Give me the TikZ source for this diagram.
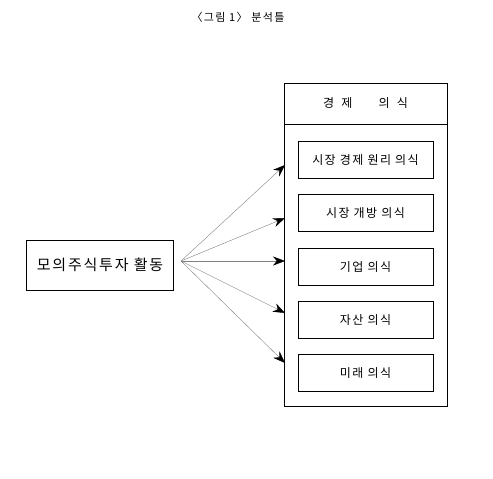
\documentclass[tikz,border=0pt]{standalone}
\usepackage{fontspec}
\newfontfamily\kr[LetterSpace=12]{Noto Sans CJK KR}
\usetikzlibrary{arrows.meta}

\begin{document}
\begin{tikzpicture}[x=1pt,y=-1pt,
  box/.style={draw, thin, minimum width=135pt, minimum height=37pt, font=\kr\fontsize{12}{14}\selectfont},
  link/.style={-{Stealth[length=12pt,width=9pt,black]}, gray, thin}]
\useasboundingbox (0,0) rectangle (493,479);
\node [font=\kr\fontsize{11}{13}\selectfont] (title) at (238,17) {〈그림 1〉 분석틀};
\node [draw, thin, minimum width=147pt, minimum height=50pt, font=\kr\fontsize{15}{17}\selectfont] (act) at (100,265) {모의주식투자 활동};
\draw [thin] (284,83) rectangle (447,406);
\draw [thin] (284,124) -- (447,124);
\node [font=\kr\fontsize{12}{14}\selectfont] (head) at (365.5,103) {경\hspace{0.6em}제\hspace{2.2em}의\hspace{0.6em}식};
\node [box] (b1) at (365.5,160) {시장 경제 원리 의식};
\node [box] (b2) at (365.5,213) {시장 개방 의식};
\node [box] (b3) at (365.5,267) {기업 의식};
\node [box] (b4) at (365.5,320) {자산 의식};
\node [box] (b5) at (365.5,373) {미래 의식};
\coordinate (o) at (181,261);
\coordinate (t1) at (285,165);
\coordinate (t2) at (285,218);
\coordinate (t3) at (285,261);
\coordinate (t4) at (285,313);
\coordinate (t5) at (285,363);
\foreach \i in {1,...,5}
  \draw [link] (o) -- (t\i);
\end{tikzpicture}
\end{document}
